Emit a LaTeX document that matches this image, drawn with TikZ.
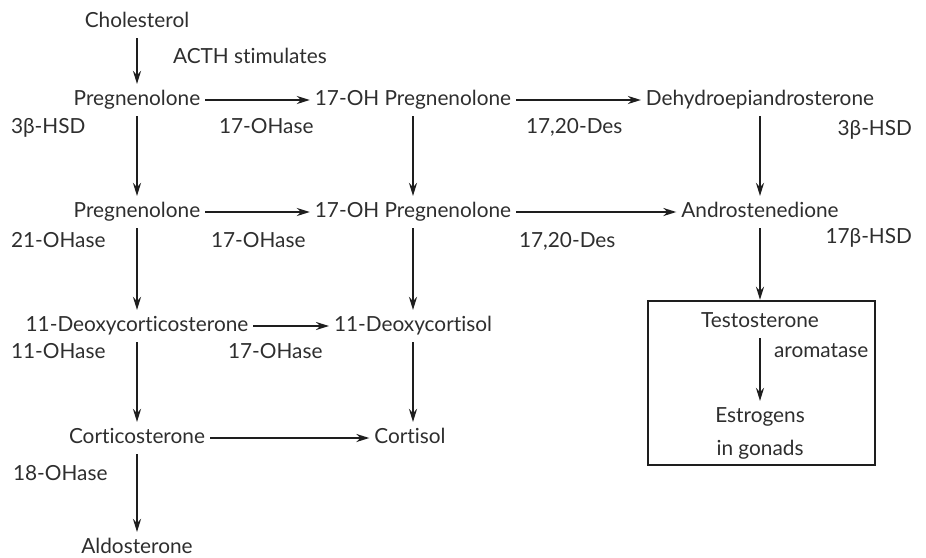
\documentclass[tikz,border=0pt]{standalone}
\usepackage{fontspec}
\setmainfont{Lato}[Ligatures={NoCommon}]
\usetikzlibrary{arrows.meta}
\definecolor{ink}{HTML}{2E2E2E}
\definecolor{rule}{HTML}{1E1E1E}

\begin{document}
\begin{tikzpicture}[x=1pt,y=-1pt,line width=2.1pt,draw=rule,
  >={Stealth[length=13pt,width=8pt]},
  every node/.style={text=ink,font=\fontsize{20.8}{24}\selectfont,
    inner xsep=4pt,inner ysep=6pt,text height=14pt,text depth=4pt},
  enz/.style={anchor=west,inner xsep=0pt},
  enzr/.style={anchor=east,inner xsep=0pt}]
\useasboundingbox (0,0) rectangle (926,557);
\node (chol) at (137,22) {Cholesterol};
\node (preg1) at (137,100) {Pregnenolone};
\node (ohpreg1) at (413,100) {17-OH Pregnenolone};
\node (dhea) at (760,100) {Dehydroepiandrosterone};
\node (preg2) at (137,212) {Pregnenolone};
\node (ohpreg2) at (413,212) {17-OH Pregnenolone};
\node (andro) at (760,212) {Androstenedione};
\node (doc) at (137,326) {11-Deoxycorticosterone};
\node (deoxcort) at (413,326) {11-Deoxycortisol};
\node (cortico) at (137,438) {Corticosterone};
\node (cortisol) at (410,438) {Cortisol};
\node (aldo) at (137,548) {Aldosterone};
\node [draw,line width=2.4pt,minimum width=227pt,minimum height=164pt] (box) at (761.5,383) {};
\node (testo) at (760,322) {Testosterone};
\node (estro) at (760,417) {Estrogens};
\node (gonads) at (760,450) {in gonads};
\node [enz] at (172,58) {ACTH stimulates};
\node [enz] at (10,128) {3β-HSD};
\node [enz] at (218,128) {17-OHase};
\node [enz] at (525,128) {17,20-Des};
\node [enzr] at (913,130) {3β-HSD};
\node [enz] at (10,242) {21-OHase};
\node [enz] at (210,242) {17-OHase};
\node [enz] at (518,242) {17,20-Des};
\node [enzr] at (913,238) {17β-HSD};
\node [enz] at (10,353) {11-OHase};
\node [enz] at (227,353) {17-OHase};
\node [enz] at (12,475) {18-OHase};
\node [enz] at (773,352) {aromatase};
\draw [->] (chol) -- (preg1);
\draw [->] (preg1) -- (ohpreg1);
\draw [->] (ohpreg1) -- (dhea);
\draw [->] (preg1) -- (preg2);
\draw [->] (ohpreg1) -- (ohpreg2);
\draw [->] (dhea) -- (andro);
\draw [->] (preg2) -- (ohpreg2);
\draw [->] (ohpreg2) -- (andro);
\draw [->] (preg2) -- (doc);
\draw [->] (ohpreg2) -- (deoxcort);
\draw [->] (andro.south) -- (andro.south |- box.north);
\draw [->] (doc) -- (deoxcort);
\draw [->] (doc) -- (cortico);
\draw [->] (deoxcort.south) -- (deoxcort.south |- cortisol.north);
\draw [->] (cortico) -- (cortisol);
\draw [->] (cortico) -- (aldo);
\draw [->] (testo) -- (estro);
\end{tikzpicture}
\end{document}
